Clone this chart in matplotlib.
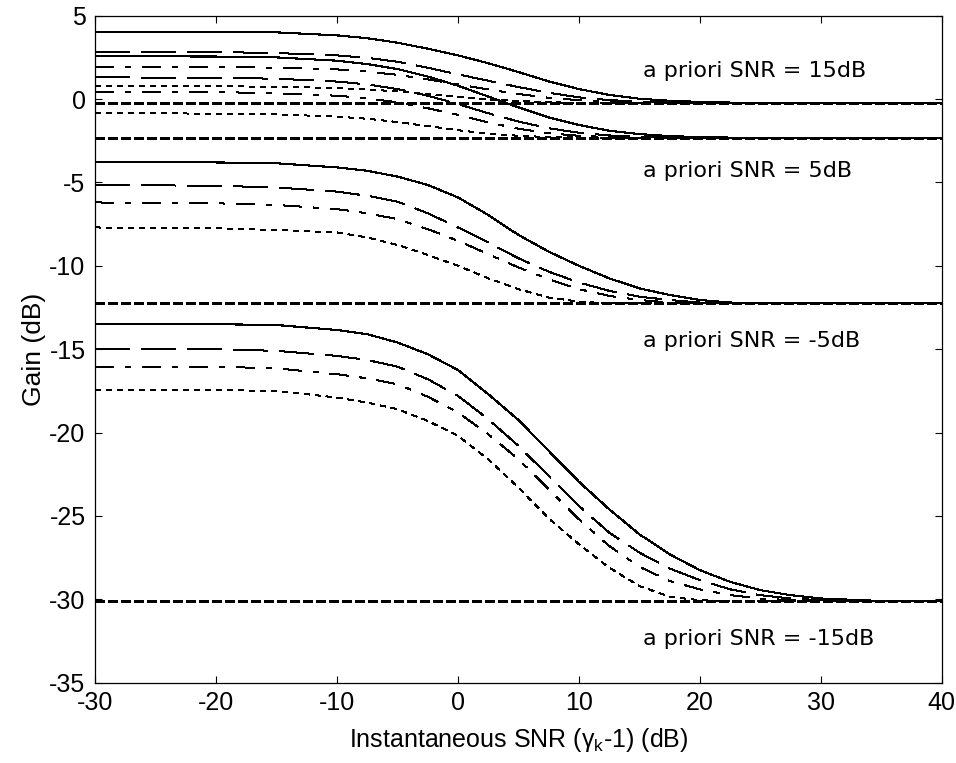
"""
Gain curves of a spectral amplitude estimator versus instantaneous SNR,
for four a priori SNR values, with the Wiener gain of each shown as a
thick dashed reference line.
"""

import matplotlib
matplotlib.use("Agg")
import matplotlib.pyplot as plt
from matplotlib import font_manager

# ── Data (dB) ──
snr_inst = [-30, -20, -15, -10, -7.5, -5, -2.5, 0, 2.5, 5, 7.5, 10,
            12.5, 15, 17.5, 20, 22.5, 25, 27.5, 30, 35, 40]

# a priori SNR = 15 dB
g15_solid = [4.04, 4.04, 4.0, 3.82, 3.65, 3.38, 3.02, 2.62, 2.15, 1.62, 1.06, 0.6,
             0.25, 0.02, -0.1, -0.17, -0.21, -0.24, -0.25, -0.25, -0.25, -0.25]
g15_dash = [2.84, 2.82, 2.76, 2.62, 2.47, 2.24, 1.88, 1.48, 1.1, 0.72, 0.38, 0.1,
            -0.06, -0.15, -0.2, -0.23, -0.25, -0.25, -0.25, -0.25, -0.25, -0.25]
g15_dashdot = [1.94, 1.92, 1.88, 1.78, 1.65, 1.45, 1.18, 0.88, 0.58, 0.3, 0.08, -0.07,
               -0.16, -0.21, -0.24, -0.25, -0.25, -0.25, -0.25, -0.25, -0.25, -0.25]
g15_dot = [0.78, 0.77, 0.74, 0.66, 0.58, 0.46, 0.3, 0.13, -0.02, -0.12, -0.19, -0.23,
           -0.25, -0.25, -0.25, -0.25, -0.25, -0.25, -0.25, -0.25, -0.25, -0.25]

# a priori SNR = 5 dB
g5_solid = [2.58, 2.55, 2.5, 2.3, 2.1, 1.8, 1.35, 0.8, 0.15, -0.5, -1.1, -1.55,
            -1.9, -2.1, -2.22, -2.28, -2.31, -2.32, -2.32, -2.32, -2.32, -2.32]
g5_dash = [1.3, 1.28, 1.22, 1.05, 0.88, 0.6, 0.2, -0.3, -0.85, -1.35, -1.75, -2.02,
           -2.18, -2.27, -2.31, -2.32, -2.32, -2.32, -2.32, -2.32, -2.32, -2.32]
g5_dashdot = [0.44, 0.42, 0.35, 0.2, 0.05, -0.2, -0.55, -0.95, -1.4, -1.78, -2.05, -2.2,
              -2.28, -2.31, -2.32, -2.32, -2.32, -2.32, -2.32, -2.32, -2.32, -2.32]
g5_dot = [-0.85, -0.87, -0.92, -1.05, -1.18, -1.38, -1.62, -1.87, -2.07, -2.2, -2.28, -2.31,
          -2.32, -2.32, -2.32, -2.32, -2.32, -2.32, -2.32, -2.32, -2.32, -2.32]

# a priori SNR = -5 dB
gm5_solid = [-3.8, -3.8, -3.85, -4.1, -4.3, -4.65, -5.15, -5.9, -6.95, -8.15, -9.15, -10.0,
             -10.75, -11.35, -11.75, -12.05, -12.2, -12.25, -12.25, -12.25, -12.25, -12.25]
gm5_dash = [-5.15, -5.2, -5.3, -5.55, -5.8, -6.15, -6.85, -7.7, -8.6, -9.55, -10.35, -11.0,
            -11.5, -11.85, -12.05, -12.2, -12.25, -12.25, -12.25, -12.25, -12.25, -12.25]
gm5_dashdot = [-6.2, -6.25, -6.35, -6.6, -6.85, -7.2, -7.8, -8.5, -9.3, -10.1, -10.8, -11.4,
               -11.8, -12.05, -12.2, -12.25, -12.25, -12.25, -12.25, -12.25, -12.25, -12.25]
gm5_dot = [-7.7, -7.75, -7.85, -8.0, -8.3, -8.75, -9.35, -10.0, -10.75, -11.4, -11.9, -12.15,
           -12.25, -12.25, -12.25, -12.25, -12.25, -12.25, -12.25, -12.25, -12.25, -12.25]

# a priori SNR = -15 dB
gm15_solid = [-13.5, -13.5, -13.55, -13.85, -14.1, -14.6, -15.3, -16.25, -17.7, -19.25, -21.1, -22.95,
              -24.6, -26.1, -27.3, -28.25, -28.95, -29.45, -29.75, -29.95, -30.1, -30.1]
gm15_dash = [-15.0, -15.0, -15.1, -15.4, -15.65, -16.05, -16.8, -17.8, -19.2, -20.8, -22.6, -24.4,
             -26.0, -27.2, -28.15, -28.85, -29.4, -29.75, -29.95, -30.05, -30.1, -30.1]
gm15_dashdot = [-16.05, -16.05, -16.15, -16.5, -16.75, -17.1, -17.85, -18.8, -20.1, -21.6, -23.4, -25.2,
                -26.8, -28.05, -28.9, -29.4, -29.75, -29.95, -30.05, -30.1, -30.1, -30.1]
gm15_dot = [-17.45, -17.45, -17.5, -17.9, -18.2, -18.6, -19.3, -20.2, -21.6, -23.3, -25.15, -26.7,
            -28.1, -29.2, -29.85, -30.05, -30.1, -30.1, -30.1, -30.1, -30.1, -30.1]

# Wiener gain for each a priori SNR
wiener_gain = [-0.25, -2.32, -12.25, -30.1]

group_labels = ["a priori SNR = 15dB", "a priori SNR = 5dB",
                "a priori SNR = -5dB", "a priori SNR = -15dB"]
label_y = [1.31, -4.69, -14.85, -32.74]

x_ticks = [-30, -20, -10, 0, 10, 20, 30, 40]
y_ticks = [-35, -30, -25, -20, -15, -10, -5, 0, 5]

# ── Style ──
plt.rcParams["lines.scale_dashes"] = False
plt.rcParams["axes.unicode_minus"] = False
names = {f.name for f in font_manager.fontManager.ttflist}
tick_font = "Liberation Sans Narrow" if "Liberation Sans Narrow" in names else "Liberation Sans"
plt.rcParams["mathtext.fontset"] = "custom"
plt.rcParams["mathtext.rm"] = "Liberation Sans"

dash_styles = [
    (0, ()),                    # solid
    (0, (24.5, 8.6)),           # dashed
    (0, (13, 8.6, 3.6, 8.6)),   # dash-dot
    (0, (3.6, 3.6)),            # dotted
]
groups = [
    [g15_solid, g15_dash, g15_dashdot, g15_dot],
    [g5_solid, g5_dash, g5_dashdot, g5_dot],
    [gm5_solid, gm5_dash, gm5_dashdot, gm5_dot],
    [gm15_solid, gm15_dash, gm15_dashdot, gm15_dot],
]

fig = plt.figure(figsize=(9.56, 7.63), dpi=100)
ax = fig.add_axes([95.3 / 956, 1 - 682.7 / 763, 846.4 / 956, 667 / 763])

for curves in groups:
    for gain, style in zip(curves, dash_styles):
        ax.plot(snr_inst, gain, color="black", linewidth=0.8,
                linestyle=style, antialiased=False)

for level in wiener_gain:
    ax.plot([snr_inst[0], snr_inst[-1]], [level, level], color="black",
            linewidth=2.3, linestyle=(0, (6.5, 2.5)), antialiased=False)

for text, y in zip(group_labels, label_y):
    ax.text(15.3, y, text, fontsize=16, family="DejaVu Sans", va="baseline")

ax.set_xlim(-30, 40)
ax.set_ylim(-35, 5)
ax.set_xticks(x_ticks)
ax.set_yticks(y_ticks)
ax.tick_params(direction="in", length=5, width=0.8, top=True, right=True,
               labelsize=18)
ax.tick_params(axis="x", pad=6)
ax.tick_params(axis="y", pad=7)
for lab in ax.get_xticklabels() + ax.get_yticklabels():
    lab.set_family(tick_font)
for spine in ax.spines.values():
    spine.set_linewidth(0.9)

ax.set_xlabel(r"Instantaneous SNR (γ$_\mathrm{k}$-1) (dB)", fontsize=18,
              family="Liberation Sans", labelpad=8)
ax.set_ylabel("Gain (dB)", fontsize=19, family="Liberation Sans", labelpad=2.5)

fig.savefig("out.png", dpi=100)
